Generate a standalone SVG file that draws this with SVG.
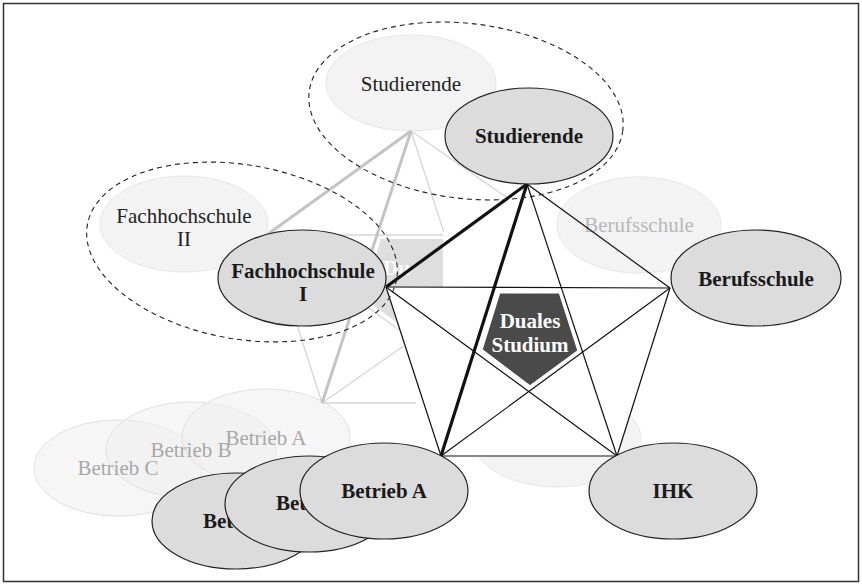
<svg xmlns="http://www.w3.org/2000/svg" width="862" height="585" viewBox="0 0 862 585">
<style>
text{font-family:"Liberation Serif","Times New Roman",serif;font-size:21px;text-anchor:middle}
.b{font-weight:bold;fill:#1a1a1a}
.gt{fill:#a8a8a8}
.main{fill:#dcdcdc;stroke:#222;stroke-width:1.2}
.ghost{fill:#eeeeee;fill-opacity:0.55;stroke:#e0e0e0;stroke-width:1}
.ghostS{fill:#f3f3f3;stroke:#e6e6e6;stroke-width:1}
.gl{stroke:#d6d6d6;stroke-width:1.3;fill:none}
.glt{stroke:#c4c4c4;stroke-width:3;fill:none}
.ml{stroke:#111;stroke-width:1.2;fill:none}
.mlt{stroke:#111;stroke-width:3.2;fill:none}
.dash{fill:none;stroke:#222;stroke-width:1.1;stroke-dasharray:5 4}
</style>
<rect x="0" y="0" width="862" height="585" fill="#fff"/>
<rect x="3.5" y="3.5" width="855" height="578" fill="none" stroke="#333" stroke-width="1.5"/>

<!-- ghost layer -->
<g id="ghost-betrieb-c"><ellipse class="ghost" cx="118" cy="468" rx="84" ry="48"/></g>
<g id="ghost-betrieb-b"><ellipse class="ghost" cx="191" cy="450" rx="85" ry="48"/></g>
<g id="ghost-betrieb-a"><ellipse class="ghost" cx="266" cy="437" rx="84" ry="48"/></g>
<text class="gt" x="118" y="475">Betrieb C</text>
<text class="gt" x="191" y="457">Betrieb B</text>
<text class="gt" x="266" y="445">Betrieb A</text>

<g id="ghost-ihk"><ellipse class="ghostS" cx="557" cy="439" rx="84" ry="48"/></g>
<g id="ghost-berufsschule">
<ellipse class="ghostS" cx="639" cy="225" rx="82" ry="48"/>
<text x="639" y="232" fill="#b8b8b8">Berufsschule</text>
</g>
<g id="ghost-studierende">
<ellipse class="ghostS" cx="411" cy="83" rx="85" ry="48"/>
<text x="411" y="91" fill="#222">Studierende</text>
</g>
<g id="fachhochschule-2">
<ellipse class="ghostS" cx="184" cy="224" rx="84" ry="48"/>
<text x="184" y="223" fill="#222">Fachhochschule</text>
<text x="184" y="246" fill="#222">II</text>
</g>
<g id="ghost-duales-studium">
<polygon points="381,239 443,239 461,298 412,334 363,297" fill="#dedede"/>
<text x="383" y="275" class="b" style="fill:#fff;text-anchor:start">Du</text>
</g>

<g id="ghost-connectors">
<line class="gl" x1="268" y1="235" x2="445" y2="235"/>
<line class="gl" x1="411" y1="131" x2="506" y2="197"/>
<line class="gl" x1="411" y1="131" x2="448" y2="245"/>
<line class="gl" x1="268" y1="234" x2="322" y2="403"/>
<line class="gl" x1="268" y1="234" x2="399" y2="330"/>
<line class="gl" x1="322" y1="403" x2="416" y2="403"/>
<line class="gl" x1="322" y1="403" x2="405" y2="345"/>
<line class="glt" x1="411" y1="131" x2="268" y2="234"/>
<line class="glt" x1="411" y1="131" x2="322" y2="403" stroke-width="3.5"/>
</g>

<!-- white backing of the main layer -->
<polygon points="527,186 443,232 443,287 386,287 420,400 422,457 617,457 628,420 600,330 545,260" fill="#fff"/>

<g id="connectors">
<line class="ml" x1="386" y1="287" x2="670" y2="288"/>
<line class="ml" x1="527" y1="184" x2="670" y2="288"/>
<line class="ml" x1="527" y1="184" x2="617" y2="456"/>
<line class="ml" x1="386" y1="287" x2="441" y2="456"/>
<line class="ml" x1="386" y1="287" x2="617" y2="456"/>
<line class="ml" x1="441" y1="456" x2="617" y2="456"/>
<line class="ml" x1="441" y1="456" x2="670" y2="288"/>
<line class="ml" x1="617" y1="456" x2="670" y2="288"/>
<line class="mlt" x1="386" y1="287" x2="527" y2="184" stroke-width="3"/>
<line class="mlt" x1="527" y1="184" x2="441" y2="456" stroke-width="3.6"/>
</g>

<g id="duales-studium">
<polygon points="499,292 560,292 579,351 530,387 481,350" fill="#4a4a4a" stroke="#fff" stroke-width="3"/>
<text x="530" y="328" class="b" style="fill:#fff">Duales</text>
<text x="530" y="352" class="b" style="fill:#fff">Studium</text>
</g>

<g id="studierende">
<ellipse class="main" cx="529" cy="136" rx="84" ry="48"/>
<text class="b" x="529" y="143">Studierende</text>
</g>
<g id="fachhochschule-1">
<ellipse class="main" cx="302" cy="278" rx="84" ry="48"/>
<text class="b" x="303" y="278">Fachhochschule</text>
<text class="b" x="303" y="301">I</text>
</g>
<g id="berufsschule">
<ellipse class="main" cx="756" cy="278" rx="85" ry="48"/>
<text class="b" x="756" y="286">Berufsschule</text>
</g>
<g id="ihk">
<ellipse class="main" cx="673" cy="491" rx="84" ry="48"/>
<text class="b" x="673" y="498">IHK</text>
</g>
<g id="betrieb-c">
<ellipse class="main" cx="236" cy="521" rx="84" ry="48"/>
<text class="b" x="203" y="528" style="text-anchor:start">Bet</text>
</g>
<g id="betrieb-b">
<ellipse class="main" cx="309" cy="504" rx="84" ry="48"/>
<text class="b" x="276" y="510" style="text-anchor:start">Bet</text>
</g>
<g id="betrieb-a">
<ellipse class="main" cx="384" cy="491" rx="84" ry="48"/>
<text class="b" x="384" y="498">Betrieb A</text>
</g>

<g id="groups">
<ellipse class="dash" cx="466" cy="111" rx="158" ry="87.5" transform="rotate(7 466 111)"/>
<ellipse class="dash" cx="242" cy="252" rx="157" ry="87" transform="rotate(10 242 252)"/>
</g>
</svg>
